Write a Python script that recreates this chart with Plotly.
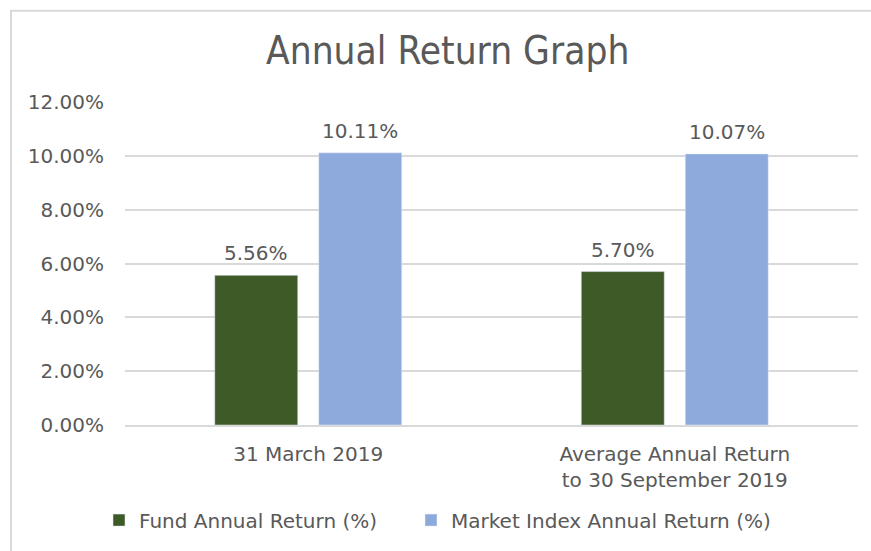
import plotly.graph_objects as go

categories = ["31 March 2019", "Average Annual Return<br>to 30 September 2019"]
fund_returns = [0.0556, 0.0570]
market_returns = [0.1011, 0.1007]
series_names = ["Fund Annual Return (%)", "Market Index Annual Return (%)"]
series_colors = ["#3d5a27", "#8eaadc"]
tick_values = [0, 0.02, 0.04, 0.06, 0.08, 0.10, 0.12]

FONT = "DejaVu Sans, Verdana, sans-serif"
GRAY = "#595959"
FS = 20

fig = go.Figure()
for name, vals, col, lg in zip(series_names, [fund_returns, market_returns], series_colors,
                               ["legend", "legend2"]):
    fig.add_trace(go.Bar(x=categories, y=vals, name=name, legend=lg,
                         marker=dict(color=col), hoverinfo="x+y"))

# data labels placed through the axes' own scales, shifted to each bar of the group
annotations = []
for shift, vals in zip([-52, 52], [fund_returns, market_returns]):
    for c, v in zip(categories, vals):
        annotations.append(dict(x=c, y=v, xref="x", yref="y", text=f"{v*100:.2f}%",
                                showarrow=False, xshift=shift, yshift=8, yanchor="bottom",
                                font=dict(size=FS, color=GRAY, family=FONT)))

legend_y = (428 - 524) / 326
fig.update_layout(
    width=871, height=551,
    margin=dict(l=125, r=13, t=102, b=123),
    paper_bgcolor="white", plot_bgcolor="white",
    barmode="group", bargap=0.4325, bargroupgap=0.202,
    font=dict(family=FONT, color=GRAY, size=FS),
    title=dict(text="Annual Return Graph", x=0.514, xanchor="center",
               y=1 - 51 / 551, yanchor="middle",
               font=dict(family="DejaVu Sans Condensed, DejaVu Sans, sans-serif", size=38.5, color=GRAY)),
    showlegend=True,
    legend=dict(orientation="h", x=(99 - 125) / 733, xanchor="left", y=legend_y, yanchor="middle",
                font=dict(size=FS, color=GRAY), itemwidth=30),
    legend2=dict(orientation="h", x=(411 - 125) / 733, xanchor="left", y=legend_y, yanchor="middle",
                 font=dict(size=FS, color=GRAY), itemwidth=30),
    xaxis=dict(showline=True, linecolor="#d9d9d9", linewidth=2, ticks="",
               ticklabelstandoff=10, tickfont=dict(size=FS, color=GRAY)),
    yaxis=dict(range=[0, 0.12], tickvals=tick_values, tickformat=".2%",
               showgrid=True, gridcolor="#d9d9d9", gridwidth=2, zeroline=False,
               ticks="", ticklabelstandoff=20, tickfont=dict(size=FS, color=GRAY)),
    annotations=annotations,
    shapes=[dict(type="rect", xref="paper", yref="paper",
                 x0=(11 - 125) / 733, x1=1.3, y0=-0.8, y1=(428 - 10) / 326,
                 line=dict(color="#d9d9d9", width=2), layer="below")],
)

fig.write_html("out.html", config={"displayModeBar": False},
               post_script="document.body.style.margin='0';document.body.style.overflow='hidden';")
